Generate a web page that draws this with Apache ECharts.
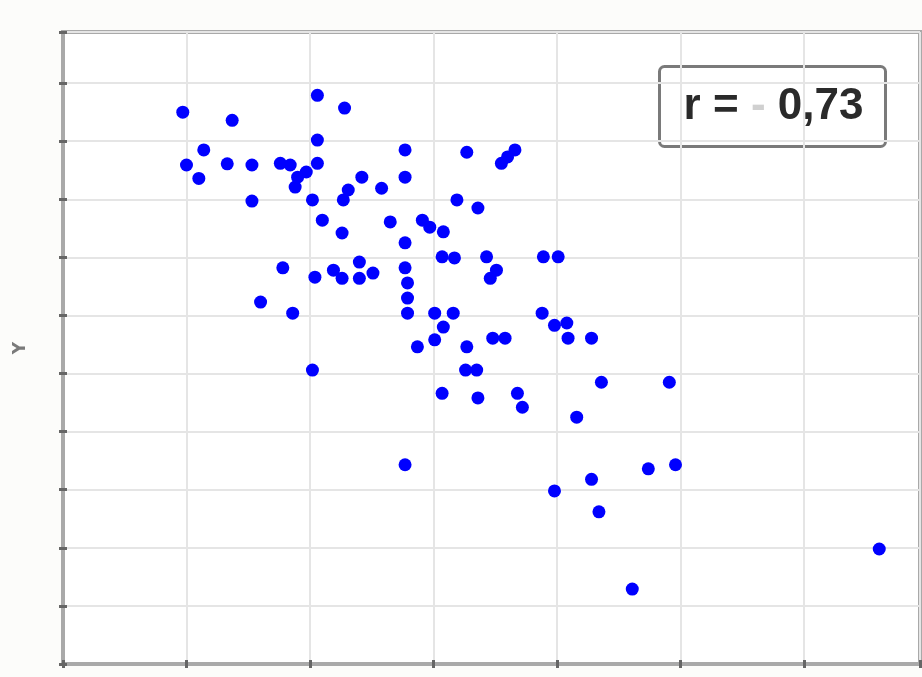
<!DOCTYPE html>
<html>
<head>
<meta charset="utf-8">
<script src="https://cdn.jsdelivr.net/npm/echarts@6/dist/echarts.min.js"></script>
<style>
html,body{margin:0;padding:0;background:#fcfcfa;}
#c{width:922px;height:677px;}
</style>
</head>
<body>
<div id="c"></div>
<script>
var xValues = [0.97,1.37,1.14,1.00,1.10,1.33,1.53,1.53,1.76,1.84,1.90,1.88,1.97,2.02,2.06,2.28,2.06,2.06,2.77,2.77,2.42,2.31,2.27,2.58,2.10,2.26,2.65,2.91,2.97,3.08,2.77,3.27,3.66,3.60,3.55,3.19,3.36,1.78,1.60,1.86,2.04,2.19,2.26,2.40,2.40,2.51,2.77,2.79,2.79,2.79,3.01,3.16,3.08,3.01,2.87,2.02,3.07,3.07,3.17,3.43,3.51,3.46,3.89,4.01,3.88,3.98,4.08,4.09,4.28,3.27,3.48,3.58,3.26,3.35,3.36,3.68,3.72,4.16,4.36,4.91,4.28,3.98,4.34,4.74,4.96,4.61,6.61,2.77];
var yValues = [9.50,9.36,8.85,8.59,8.36,8.61,8.59,7.97,8.62,8.59,8.38,8.21,8.47,7.99,9.79,9.57,9.02,8.62,8.85,8.38,8.38,8.16,7.99,8.19,7.64,7.42,7.61,7.64,7.52,7.44,7.25,8.81,8.85,8.73,8.62,7.99,7.85,6.82,6.23,6.04,6.66,6.78,6.64,6.92,6.64,6.73,6.82,6.56,6.30,6.04,6.04,6.04,5.80,5.58,5.46,5.06,4.66,7.01,6.99,7.01,6.78,6.64,7.01,7.01,6.04,5.83,5.87,5.61,5.61,5.46,5.61,5.61,5.06,5.06,4.58,4.66,4.42,4.25,4.85,4.85,3.18,2.98,2.62,3.36,3.43,1.29,1.98,3.43];
var yAxisName = 'Y';

var points = xValues.map(function(x,i){return [x, yValues[i]];});

var axisLine = {show:true, lineStyle:{color:'#a9a9a9', width:4}};
var axisTick = {show:true, inside:true, length:4, lineStyle:{color:'#666', width:3}};
var split = {show:true, lineStyle:{color:'#e5e5e5', width:2}};

var chart = echarts.init(document.getElementById('c'));
chart.setOption({
  backgroundColor:'#fcfcfa',
  animation:false,
  grid:{left:63, top:32, right:2, bottom:13, show:true, backgroundColor:'#ffffff', borderColor:'#a9a9a9', borderWidth:4},
  xAxis:[
    {type:'value', min:0, max:6.94, interval:1, position:'bottom', axisLine:axisLine, axisTick:axisTick, axisLabel:{show:false}, splitLine:split},
    {type:'value', min:0, max:6.94, interval:1, position:'top', axisLine:axisLine, axisTick:axisTick, axisLabel:{show:false}, splitLine:{show:false}}
  ],
  yAxis:[
    {type:'value', min:0, max:10.88, interval:1, position:'left', axisLine:axisLine, axisTick:axisTick, axisLabel:{show:false}, splitLine:split,
     name:yAxisName, nameLocation:'middle', nameGap:34, nameRotate:90, nameTextStyle:{color:'#7a7a7a', fontSize:17, fontWeight:'bold', fontFamily:'DejaVu Sans'}},
    {type:'value', min:0, max:10.88, interval:1, position:'right', axisLine:axisLine, axisTick:axisTick, axisLabel:{show:false}, splitLine:{show:false}}
  ],
  series:[{
    type:'scatter', xAxisIndex:0, yAxisIndex:0, data:points, symbolSize:13,
    itemStyle:{color:'#0000ff', opacity:1}
  }],
  graphic:[{
    type:'group', left:658, top:65,
    children:[
      {type:'rect', shape:{x:0,y:0,width:226,height:80,r:5}, style:{fill:'#ffffff', stroke:'#7a7a7a', lineWidth:3}},
      {type:'text', x:114, y:40, style:{
        text:'{a|r = }{b|-}{a| 0,73}', align:'center', verticalAlign:'middle',
        rich:{
          a:{fontSize:44, fontWeight:'bold', fontFamily:'Liberation Sans', fill:'#2a2a2a'},
          b:{fontSize:44, fontWeight:'bold', fontFamily:'Liberation Sans', fill:'#d0d0d0'}
        }
      }}
    ]
  }]
});
</script>
</body>
</html>
